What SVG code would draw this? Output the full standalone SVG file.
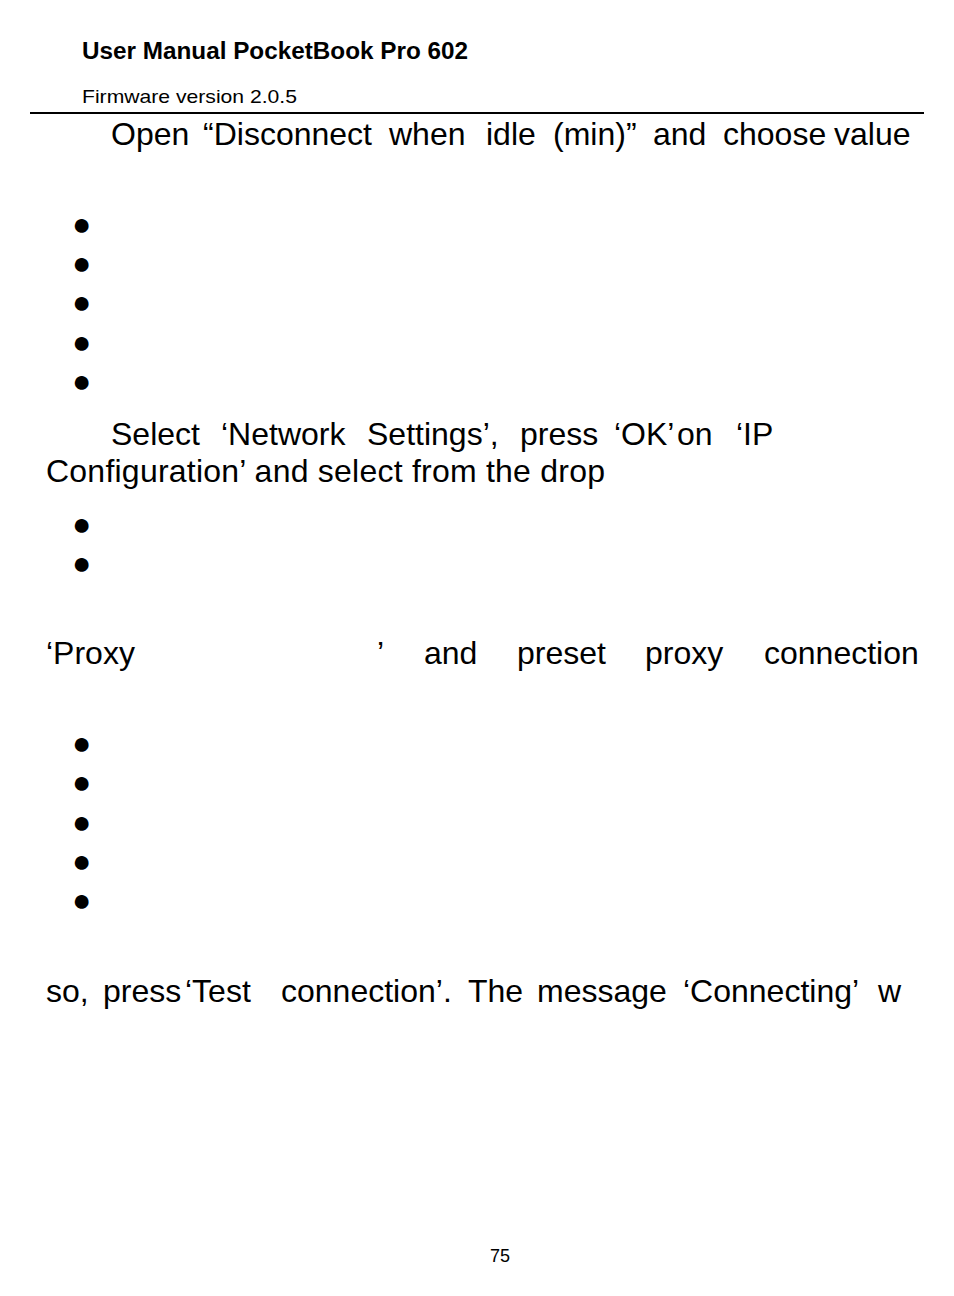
<svg xmlns="http://www.w3.org/2000/svg" width="954" height="1296" viewBox="0 0 954 1296">
<style>
.h{font-family:"Liberation Sans","Open Sans",sans-serif;fill:#000}
.b text{font-family:"Liberation Sans",Arial,sans-serif;font-size:32px;fill:#000}
</style>
<rect width="954" height="1296" fill="#fff"/>
<text class="h" x="82" y="59" font-size="23" font-weight="bold" textLength="386" lengthAdjust="spacingAndGlyphs">User Manual PocketBook Pro 602</text>
<text class="h" x="82" y="103" font-size="19" textLength="215" lengthAdjust="spacingAndGlyphs">Firmware version 2.0.5</text>
<line x1="30" y1="113" x2="924" y2="113" stroke="#000" stroke-width="2"/>
<g class="b">
<text x="111" y="145">Open</text><text x="203" y="145">“Disconnect</text><text x="389" y="145">when</text><text x="486" y="145">idle</text><text x="553" y="145">(min)”</text><text x="653" y="145">and</text><text x="723" y="145">choose</text><text x="834" y="145">value</text>
<text x="72" y="235">●</text><text x="72" y="274">●</text><text x="72" y="313">●</text><text x="72" y="353">●</text><text x="72" y="392">●</text>
<text x="72" y="535">●</text><text x="72" y="574">●</text>
<text x="72" y="754">●</text><text x="72" y="793">●</text><text x="72" y="833">●</text><text x="72" y="872">●</text><text x="72" y="911">●</text>
<text x="111" y="445">Select</text><text x="221" y="445">‘Network</text><text x="367" y="445">Settings’,</text><text x="520" y="445">press</text><text x="614" y="445">‘OK’</text><text x="677" y="445">on</text><text x="736" y="445">‘IP</text>
<text x="46" y="482" textLength="559" lengthAdjust="spacing">Configuration’ and select from the drop</text>
<text x="46" y="664">‘Proxy</text><text x="377" y="664">’</text>
<text x="424" y="664">and</text><text x="517" y="664">preset</text><text x="645" y="664">proxy</text><text x="764" y="664">connection</text>
<text x="46" y="1002">so,</text><text x="103" y="1002">press</text><text x="185" y="1002">‘Test</text><text x="281" y="1002">connection’.</text><text x="468" y="1002">The</text><text x="537" y="1002">message</text><text x="683" y="1002">‘Connecting’</text><text x="878" y="1002">w</text>
</g>
<text class="h" x="490" y="1262" font-size="18">75</text>
</svg>
